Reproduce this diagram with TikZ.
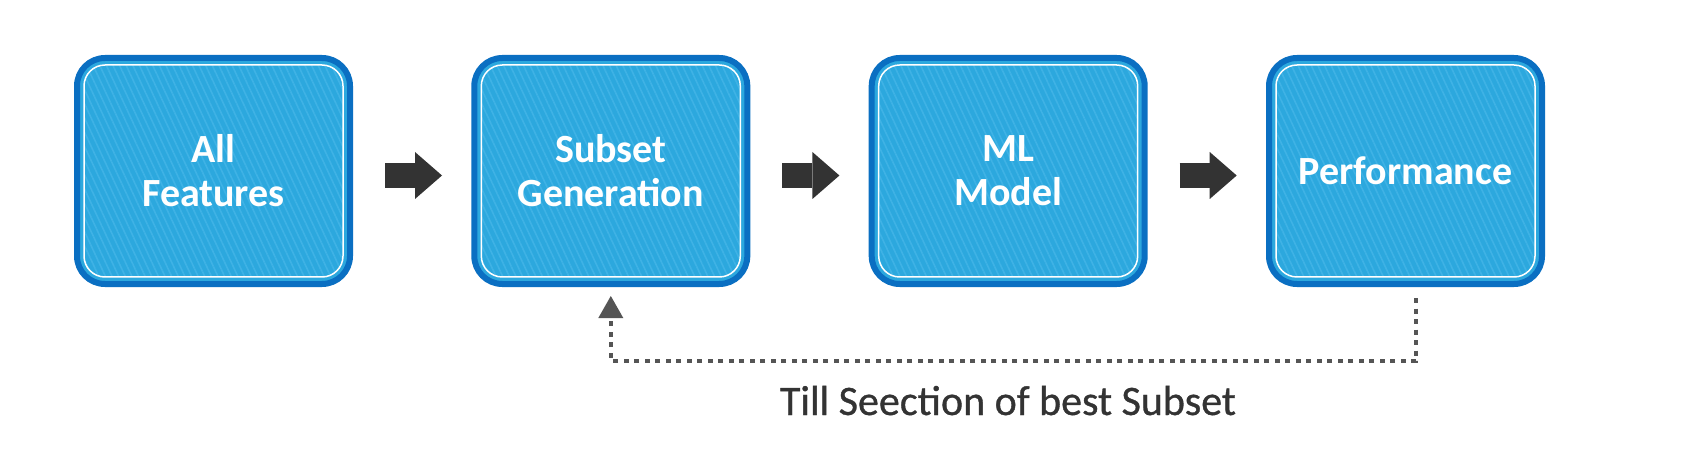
\documentclass[tikz,border=0pt]{standalone}
\usepackage{fontspec}
\setmainfont{Carlito}
\newfontfamily\capfont[FakeBold=0.8]{Carlito}
\usetikzlibrary{arrows.meta,patterns.meta,calc}
\definecolor{bdark}{HTML}{0A6FC2}
\definecolor{bfill}{HTML}{2CA8DE}
\definecolor{bstripe}{HTML}{3FB2E5}
\definecolor{arrowcol}{HTML}{333333}
\definecolor{dotcol}{HTML}{555555}
\definecolor{capcol}{HTML}{333333}
\tikzset{
  box/.style={rounded corners=28pt, draw=bdark, line width=6pt, fill=bfill,
    minimum width=273pt, minimum height=226pt, inner sep=0pt, outer sep=0pt,
    text=white, align=center, font=\fontsize{40}{44}\selectfont\bfseries,
    path picture={\draw[white, line width=1.5pt, rounded corners=21pt,
      pattern={Lines[angle=-65,distance=6pt,line width=1.6pt]}, pattern color=bstripe]
      ([shift={(7pt,-7pt)}]path picture bounding box.north west) rectangle
      ([shift={(-7pt,7pt)}]path picture bounding box.south east);}},
  flow/.style={arrowcol, line width=25pt,
    -{Triangle[width=47pt,length=27pt,line width=0pt]},
    shorten <=35pt, shorten >=32.3pt},
  feedback/.style={dotcol, line width=4pt, dash pattern=on 5pt off 5.5pt,
    -{Triangle[width=25pt,length=22pt,line width=0pt]}},
  caption/.style={text=capcol, font=\capfont\fontsize{42}{46}\selectfont, anchor=base}
}
\begin{document}
\begin{tikzpicture}[x=1pt,y=-1pt]
\useasboundingbox[fill=white] (0,0) rectangle (1683,462);
\node[box] (b1) at (213.5,171) {All\\Features};
\node[box] (b2) at (610.8,171) {Subset\\Generation};
\node[box] (b3) at (1008.2,171) {ML\\Model};
\node[box] (b4) at (1405.5,171) {Performance};
\draw[flow] ([yshift=-4.5pt]b1.east) -- ([yshift=-4.5pt]b2.west);
\draw[flow] ([yshift=-4.5pt]b2.east) -- ([yshift=-4.5pt]b3.west);
\draw[flow] ([yshift=-4.5pt]b3.east) -- ([yshift=-4.5pt]b4.west);
\draw[feedback] ([xshift=10.5pt,yshift=-14pt]b4.south) -- ++(0,63) -| ([yshift=-12pt]b2.south);
\node[caption] (cap) at (1008,415) {Till Seection of best Subset};
\end{tikzpicture}
\end{document}
